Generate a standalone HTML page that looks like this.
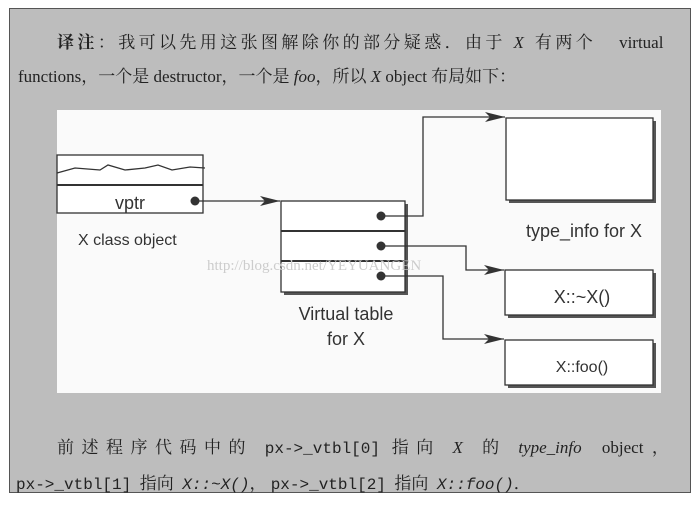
<!DOCTYPE html>
<html><head><meta charset="utf-8"><style>
body{margin:0;width:699px;height:507px;background:#fff;overflow:hidden;position:relative;font-family:"Liberation Serif","Noto Serif CJK SC",serif}
.frame{position:absolute;left:9px;top:8px;width:682px;height:485px;background:#bdbdbd;border:1px solid #555;box-sizing:border-box}
.t{position:absolute;font-size:17px;color:#222;white-space:nowrap;letter-spacing:1.5px}
.m{font-family:"Liberation Mono",monospace;font-size:16px;letter-spacing:0}
i{font-style:italic}
</style></head><body>
<div class="frame"></div>
<div class="t" style="left:57px;top:28px;letter-spacing:3.4px"><b>译注</b>：我可以先用这张图解除你的部分疑惑．由于 <i>X</i> 有两个&nbsp;&nbsp; <span style="letter-spacing:0">virtual</span></div>
<div class="t" style="left:18px;top:62px;letter-spacing:0">functions，一个是 destructor，一个是 <i>foo</i>，所以 <i>X</i> object 布局如下：</div>
<div class="t" style="left:57px;top:433px;letter-spacing:7.5px">前述程序代码中的 <span class="m">px-&gt;_vtbl[0]</span> 指向 <i>X</i> 的 <i style="letter-spacing:0">type_info</i> <span style="letter-spacing:0">&nbsp;&nbsp;object&nbsp;&nbsp;，</span></div>
<div class="t" style="left:16px;top:469px;letter-spacing:0"><span class="m">px-&gt;_vtbl[1]</span>&nbsp; 指向&nbsp; <span class="m"><i>X::~X()</i></span>，&nbsp;<span class="m">px-&gt;_vtbl[2]</span>&nbsp; 指向&nbsp; <span class="m"><i>X::foo()</i></span>．</div>
<svg style="position:absolute;left:0;top:0" width="699" height="507" font-family="Liberation Sans, sans-serif">
<defs><marker id="a" markerWidth="20" markerHeight="10" refX="20" refY="5" orient="auto" markerUnits="userSpaceOnUse"><path d="M0,0 L20,5 L0,10 L5,5z" fill="#333"/></marker></defs>
<rect x="57" y="110" width="604" height="283" fill="#fafafa"/>
<g stroke="#333" stroke-width="1.3" fill="#fff">
<rect x="57" y="155" width="146" height="58"/>
<line x1="57" y1="185" x2="203" y2="185" stroke-width="2"/>
<path d="M57,173 L75,168 L100,170 L108,165 L125,170 L145,168 L158,165 L172,170 L190,167 L205,168" fill="none"/>
<rect x="284" y="204" width="124" height="91" fill="#555" stroke="none"/>
<rect x="281" y="201" width="124" height="91"/>
<line x1="281" y1="231" x2="405" y2="231" stroke-width="2"/>
<line x1="281" y1="261" x2="405" y2="261" stroke-width="2"/>
<rect x="509" y="121" width="147" height="82" fill="#555" stroke="none"/>
<rect x="506" y="118" width="147" height="82"/>
<rect x="508" y="273" width="148" height="45" fill="#555" stroke="none"/>
<rect x="505" y="270" width="148" height="45"/>
<rect x="508" y="343" width="148" height="45" fill="#555" stroke="none"/>
<rect x="505" y="340" width="148" height="45"/>
<g fill="none">
<path d="M195,201 H280" marker-end="url(#a)"/>
<path d="M381,216 H423 V117 H505" marker-end="url(#a)"/>
<path d="M381,246 H466 V270 H504" marker-end="url(#a)"/>
<path d="M381,276 H443 V339 H504" marker-end="url(#a)"/>
</g>
</g>
<g fill="#333"><circle cx="195" cy="201" r="4.5"/><circle cx="381" cy="216" r="4.5"/><circle cx="381" cy="246" r="4.5"/><circle cx="381" cy="276" r="4.5"/></g>
<g fill="#333" font-size="18">
<text x="130" y="209" text-anchor="middle">vptr</text>
<text x="78" y="245" font-size="16">X class object</text>
<text x="346" y="320" text-anchor="middle">Virtual table</text>
<text x="346" y="345" text-anchor="middle">for X</text>
<text x="584" y="237" text-anchor="middle">type_info for X</text>
<text x="582" y="303" text-anchor="middle">X::~X()</text>
<text x="582" y="372" text-anchor="middle" font-size="16">X::foo()</text>
</g>
<text x="207" y="270" font-family="Liberation Serif, serif" font-size="15" fill="#ccc">http://blog.csdn.net/YEYUANGEN</text>
</svg>
</body></html>
